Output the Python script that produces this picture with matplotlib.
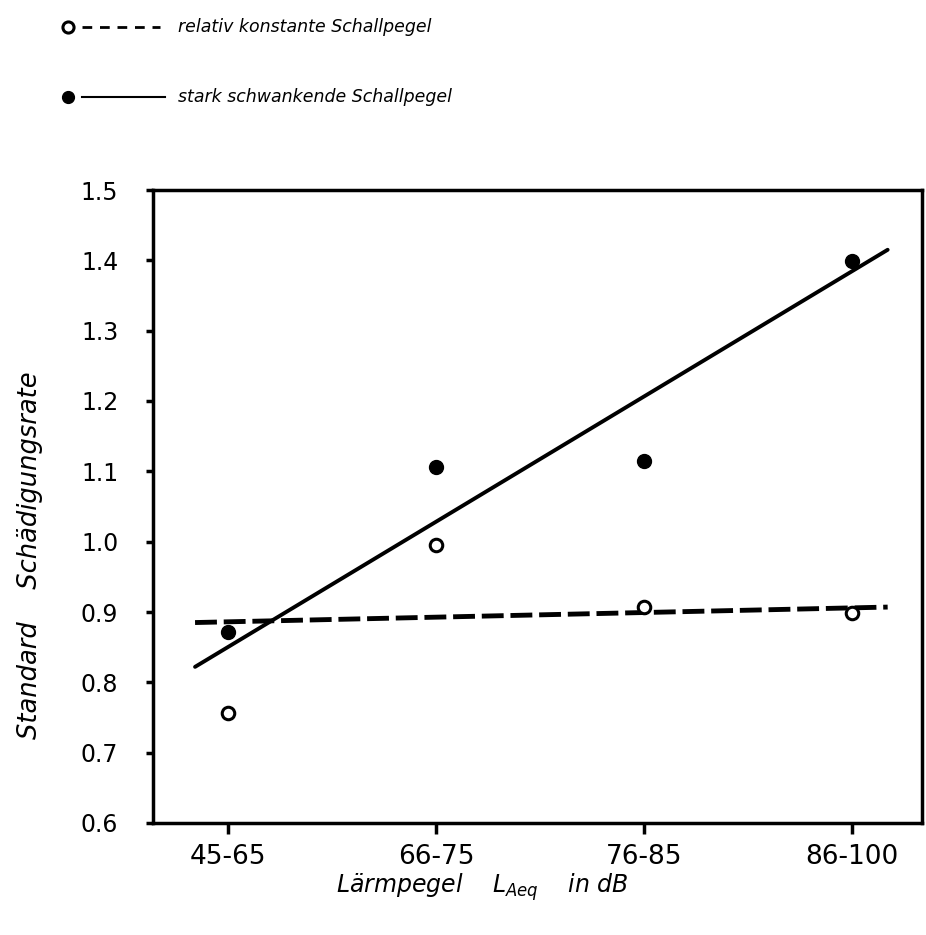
import matplotlib
matplotlib.use("Agg")
import matplotlib.pyplot as plt
from matplotlib.lines import Line2D

plt.rcParams['font.family'] = ['DejaVu Sans']
plt.rcParams['mathtext.fontset'] = 'dejavusans'

# data
groups = ["45-65", "66-75", "76-85", "86-100"]
konstant = [0.756, 0.995, 0.907, 0.899]      # open circles
schwankend = [0.872, 1.106, 1.114, 1.399]    # filled circles
# drawn trend lines (end points)
trend_x = [-0.157, 3.17]
trend_konstant = [0.885, 0.907]
trend_schwankend = [0.822, 1.415]
yticks = [0.6, 0.7, 0.8, 0.9, 1.0, 1.1, 1.2, 1.3, 1.4, 1.5]

W, H = 926, 935
fig = plt.figure(figsize=(W / 100, H / 100), dpi=100)

def fx(px):
    return px / W

def fy(py):
    return 1 - py / H

ax = fig.add_axes([fx(153), fy(823), (922 - 153) / W, (823 - 190) / H])
ax.set_xlim(-0.359, 3.335)
ax.set_ylim(0.6, 1.5)

xs = list(range(len(groups)))
ax.plot(trend_x, trend_konstant, color='black', lw=3.5, ls=(0, (4.5, 1.4)))
ax.plot(trend_x, trend_schwankend, color='black', lw=2.8, solid_capstyle='round')
ax.plot(xs, konstant, 'o', ms=9, mfc='white', mec='black', mew=2.2, ls='none')
ax.plot(xs, schwankend, 'o', ms=10, mfc='black', mec='black', ls='none')

for s in ax.spines.values():
    s.set_linewidth(2.5)

ax.set_xticks(xs)
ax.set_xticklabels(groups, fontsize=19)
ax.set_yticks(yticks)
ax.set_yticklabels([f"{v:.1f}" for v in yticks], fontsize=17)
ax.tick_params(axis='y', direction='out', length=5, width=2.5, pad=20)
ax.tick_params(axis='x', direction='out', length=8, width=2.5, pad=7)

fig.text(fx(30), fy(555), "Standard    Schädigungsrate", rotation=90,
         ha='center', va='center', fontsize=18.5, style='italic')
fig.text(fx(482), fy(887), r"Lärmpegel    $\mathit{L}_{\mathit{Aeq}}$    in dB",
         ha='center', va='center', fontsize=17, style='italic')

# legend drawn by hand at the top
fig.add_artist(Line2D([fx(68)], [fy(27)], marker='o', ms=8, mfc='white',
                      mec='black', mew=2.2, transform=fig.transFigure))
fig.add_artist(Line2D([fx(82), fx(160)], [fy(27), fy(27)], color='black', lw=2,
                      ls=(0, (3.5, 2.8)), transform=fig.transFigure))
fig.add_artist(Line2D([fx(68)], [fy(97)], marker='o', ms=8.5, mfc='black',
                      mec='black', transform=fig.transFigure))
fig.add_artist(Line2D([fx(82), fx(165)], [fy(97), fy(97)], color='black', lw=1.5,
                      transform=fig.transFigure))
fig.text(fx(178), fy(27), "relativ konstante Schallpegel", ha='left', va='center',
         fontsize=12.5, style='italic')
fig.text(fx(178), fy(97), "stark schwankende Schallpegel", ha='left', va='center',
         fontsize=12.5, style='italic')

fig.savefig("out.png", dpi=100)
